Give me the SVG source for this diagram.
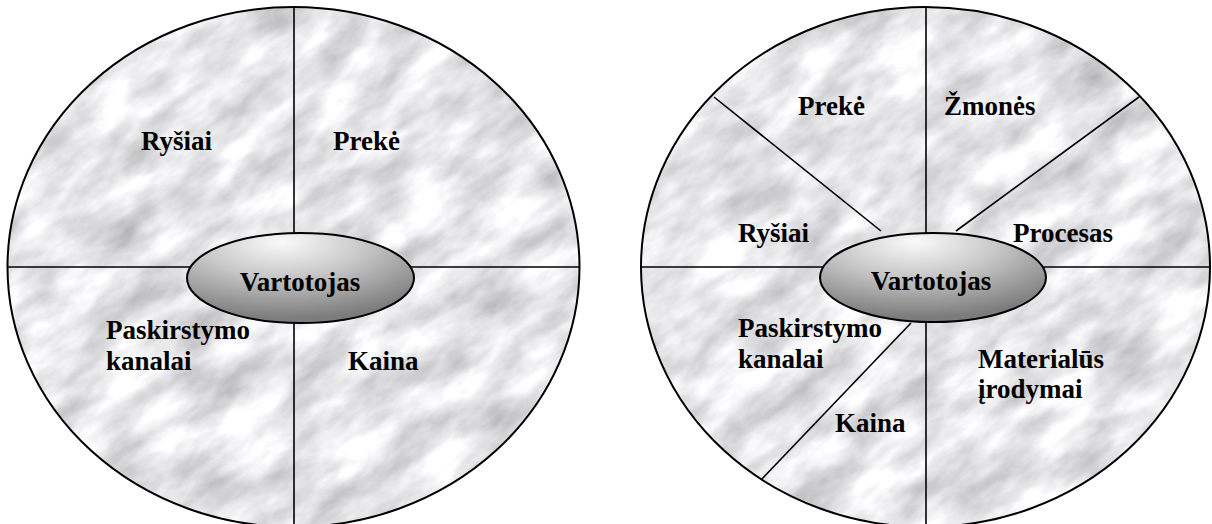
<svg xmlns="http://www.w3.org/2000/svg" width="1212" height="524" viewBox="0 0 1212 524">
<style>
text{font-family:'Liberation Serif','Times New Roman',Times,serif;font-weight:bold;font-size:27px;fill:#000}
.rim{stroke:#000;stroke-width:2;fill:none}
.div{stroke:#000;stroke-width:1.6;fill:none}
.hub{fill:url(#hubGrad);stroke:#000;stroke-width:2}
.stone{fill:#e0e0e0;filter:url(#marble)}
</style>
<defs>
<filter id="marble" x="0" y="0" width="100%" height="100%" color-interpolation-filters="sRGB">
<feTurbulence type="fractalNoise" baseFrequency="0.015 0.032" numOctaves="5" seed="11" result="n"/>
<feColorMatrix in="n" type="matrix" values="0.45 0 0 0 0.68  0.45 0 0 0 0.68  0.45 0 0 0 0.69  0 0 0 0 1" result="g"/>
<feComposite in="g" in2="SourceGraphic" operator="in"/>
</filter>
<clipPath id="clipL"><ellipse cx="293.5" cy="267" rx="286" ry="260"/></clipPath>
<clipPath id="clipR"><ellipse cx="925.5" cy="267" rx="284.5" ry="260"/></clipPath>
<radialGradient id="hubGrad" cx="0.42" cy="0.15" r="0.8" fx="0.42" fy="0.1">
<stop offset="0" stop-color="#fafafa"/>
<stop offset="0.45" stop-color="#c8c8c8"/>
<stop offset="1" stop-color="#7c7c7c"/>
</radialGradient>
</defs>
<rect width="1212" height="524" fill="#fff"/>

<g id="wheel-left">
<g clip-path="url(#clipL)"><rect class="stone" x="-120" y="-150" width="830" height="830" transform="rotate(-35 293.5 267)"/></g>
<ellipse class="rim" cx="293.5" cy="267" rx="286" ry="260"/>
</g>
<g id="wheel-right">
<g clip-path="url(#clipR)"><rect class="stone" x="510" y="-150" width="830" height="830" transform="rotate(-35 925.5 267)"/></g>
<ellipse class="rim" cx="925.5" cy="267" rx="284.5" ry="260"/>
</g>

<g id="connectors">
<line class="div" x1="8" y1="267" x2="579" y2="267"/>
<line class="div" x1="294" y1="7" x2="294" y2="527"/>
<line class="div" x1="641" y1="267" x2="1210" y2="267"/>
<line class="div" x1="926" y1="7" x2="926" y2="527"/>
<line class="div" x1="714" y1="97" x2="881" y2="231"/>
<line class="div" x1="1139" y1="97" x2="956" y2="231"/>
<line class="div" x1="761" y1="480" x2="911" y2="323"/>
</g>

<g id="hub-left">
<ellipse class="hub" cx="300.5" cy="278" rx="113.5" ry="45"/>
<text x="300" y="291" text-anchor="middle">Vartotojas</text>
</g>
<g id="hub-right">
<ellipse class="hub" cx="933" cy="277.5" rx="113" ry="44.5"/>
<text x="931" y="290" text-anchor="middle">Vartotojas</text>
</g>

<g id="left-rysiai"><text x="141" y="150">Ryšiai</text></g>
<g id="left-preke"><text x="333" y="150">Prekė</text></g>
<g id="left-paskirstymo"><text x="106" y="339">Paskirstymo</text><text x="106" y="370">kanalai</text></g>
<g id="left-kaina"><text x="348" y="370">Kaina</text></g>

<g id="right-preke"><text x="798" y="115">Prekė</text></g>
<g id="right-zmones"><text x="944" y="115">Žmonės</text></g>
<g id="right-rysiai"><text x="738" y="242">Ryšiai</text></g>
<g id="right-procesas"><text x="1013" y="242">Procesas</text></g>
<g id="right-paskirstymo"><text x="738" y="337">Paskirstymo</text><text x="738" y="368">kanalai</text></g>
<g id="right-materialus"><text x="978" y="368">Materialūs</text><text x="978" y="398">įrodymai</text></g>
<g id="right-kaina"><text x="835" y="432">Kaina</text></g>
</svg>
